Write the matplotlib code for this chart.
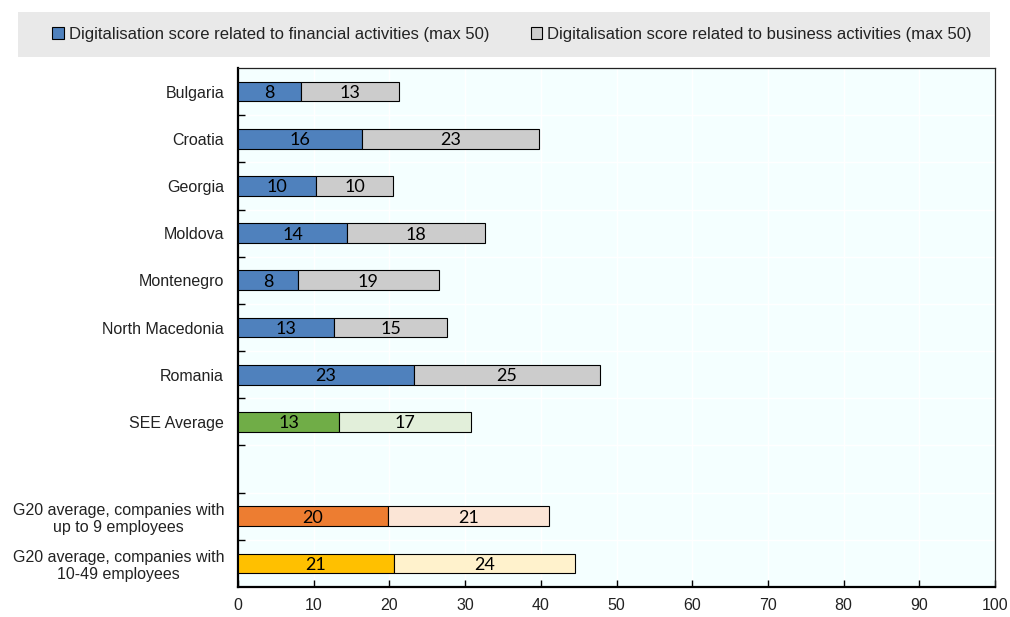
import matplotlib.pyplot as plt
from matplotlib.patches import Patch, Rectangle

plt.rcParams['font.family'] = ['Liberation Sans Narrow', 'Liberation Sans', 'DejaVu Sans']

categories = [
    "Bulgaria", "Croatia", "Georgia", "Moldova", "Montenegro",
    "North Macedonia", "Romania", "SEE Average", "",
    "G20 average, companies with\nup to 9 employees",
    "G20 average, companies with\n10-49 employees",
]
financial = [8.3, 16.4, 10.3, 14.4, 7.9, 12.7, 23.2, 13.4, None, 19.8, 20.6]
business = [13.0, 23.4, 10.2, 18.2, 18.6, 14.9, 24.6, 17.4, None, 21.3, 23.9]

fin_colors = ["#4F81BD"] * 7 + ["#70AD47", None, "#ED7D31", "#FFC000"]
bus_colors = ["#CCCCCC"] * 7 + ["#E2EFDA", None, "#FBE5D6", "#FFF2CC"]

fig = plt.figure(figsize=(10.1, 6.17), dpi=100)
ax = fig.add_axes([238 / 1010, 1 - 587 / 617, (995 - 238) / 1010, (587 - 68) / 617])
ax.set_facecolor("#F4FFFF")

# grey band behind the legend
fig.patches.append(Rectangle((18 / 1010, 1 - 57 / 617), 972 / 1010, 45 / 617,
                             transform=fig.transFigure, facecolor="#E9E9E9",
                             edgecolor="none", zorder=0))

ypos = list(range(len(categories)))
label_font = ["Lato", "DejaVu Sans"]
for y, f, b, fc, bc in zip(ypos, financial, business, fin_colors, bus_colors):
    if f is None:
        continue
    ax.barh(y, f, height=0.42, color=fc, edgecolor="black", linewidth=0.8, zorder=3)
    ax.barh(y, b, left=f, height=0.42, color=bc, edgecolor="black", linewidth=0.8, zorder=3)
    ax.text(f / 2, y + 0.03, f"{f:.0f}", ha="center", va="center", fontsize=13,
            family=label_font, zorder=4)
    ax.text(f + b / 2, y + 0.03, f"{b:.0f}", ha="center", va="center", fontsize=13,
            family=label_font, zorder=4)

ax.set_xlim(0, 100)
ax.set_ylim(len(categories) - 0.5, -0.5)
ax.set_xticks(range(0, 101, 10))
ax.set_yticks(ypos)
ax.set_yticklabels(categories, multialignment="center", color="#222222")
ax.set_yticks([y + 0.5 for y in ypos[:-1]], minor=True)
ax.tick_params(axis="y", which="major", length=0, labelsize=11.5, pad=10)
ax.tick_params(axis="y", which="minor", direction="in", length=5, width=1)
ax.tick_params(axis="x", direction="in", length=5, width=1, labelsize=11.5, pad=8,
               labelcolor="#222222")

ax.grid(True, axis="x", color="white", linewidth=1, zorder=1)
ax.grid(True, axis="y", which="minor", color="white", linewidth=1, zorder=1)
ax.set_axisbelow(True)

for side in ["left", "bottom"]:
    ax.spines[side].set_linewidth(1.6)
    ax.spines[side].set_color("black")
for side in ["top", "right"]:
    ax.spines[side].set_linewidth(0.9)
    ax.spines[side].set_color("#222222")

handles = [
    Patch(facecolor="#4F81BD", edgecolor="black", linewidth=0.8,
          label="Digitalisation score related to financial activities (max 50)"),
    Patch(facecolor="#CCCCCC", edgecolor="black", linewidth=0.8,
          label="Digitalisation score related to business activities (max 50)"),
]
fig.legend(handles=handles, loc="center", bbox_to_anchor=(512 / 1010, 1 - 34 / 617),
           ncol=2, frameon=False, fontsize=12, handlelength=0.7, handleheight=0.7,
           handletextpad=0.3, columnspacing=2.5, labelcolor="#222222")

fig.savefig("out.png", dpi=100)
